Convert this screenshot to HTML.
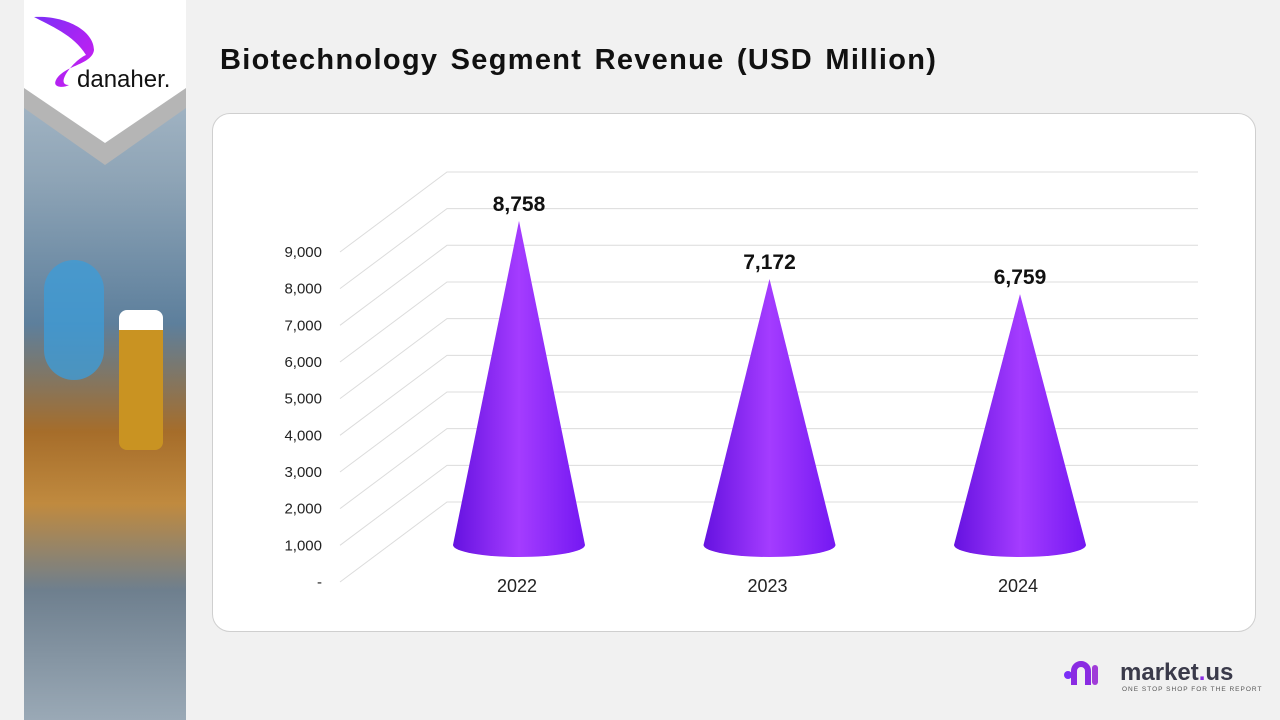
<!DOCTYPE html>
<html><head><meta charset="utf-8">
<style>
body{margin:0;width:1280px;height:720px;background:#f1f1f1;overflow:hidden;font-family:"Liberation Sans",sans-serif;position:relative}
#side{position:absolute;left:24px;top:0;width:162px;height:720px;background:linear-gradient(180deg,#b9c7d3 0%,#8ea4b6 25%,#5d7f9c 45%,#a66d2a 60%,#c08a3f 70%,#6e7f8e 82%,#9aa9b6 100%)}
#title{position:absolute;left:220px;top:44px;font-size:29px;font-weight:bold;color:#111;letter-spacing:1.3px;word-spacing:3px}
#card{position:absolute;left:212px;top:113px;width:1042px;height:517px;background:#fff;border:1px solid #cfcfcf;border-radius:18px}
</style></head><body>
<div id="side">
 <div style="position:absolute;left:20px;top:260px;width:60px;height:120px;background:#3f9bd6;border-radius:30px;opacity:.8"></div>
 <div style="position:absolute;left:95px;top:310px;width:44px;height:120px;background:#c99322;border-radius:8px;border-top:20px solid #fff"></div>
</div>
<svg style="position:absolute;left:24px;top:0" width="162" height="170">
 <polygon points="0,86 81,143 162,86 162,108 81,165 0,108" fill="#b5b5b5"/>
 <polygon points="0,0 162,0 162,88 81,143 0,88" fill="#fff"/>
 <defs><linearGradient id="lg" x1="0" y1="0" x2="1" y2="1"><stop offset="0" stop-color="#7b2ff7"/><stop offset="1" stop-color="#d21cf0"/></linearGradient></defs>
 <path d="M10,17 C40,15 70,30 70,50 C68,65 40,65 32,80 C28,88 40,88 45,85 C30,85 50,60 62,55 C50,35 25,25 10,17Z" fill="url(#lg)"/>
 <text x="53" y="87" font-size="24" fill="#111">danaher.</text>
</svg>
<div id="title">Biotechnology Segment Revenue  (USD Million)</div>
<div id="card"></div>
<svg id="chart" style="position:absolute;left:0;top:0" width="1280" height="720">
 <defs><linearGradient id="cg" x1="0" y1="0" x2="1" y2="0"><stop offset="0" stop-color="#6512e0"/><stop offset=".5" stop-color="#a43cff"/><stop offset="1" stop-color="#7418f2"/></linearGradient></defs>
</svg>
<svg style="position:absolute;left:1062px;top:655px" width="200" height="40">
 <circle cx="6" cy="20" r="4" fill="#7b2ff7"/>
 <path d="M12,30 V16 a7,7 0 0 1 14,0 V30" stroke="#8a2be2" stroke-width="6" fill="none"/>
 <rect x="30" y="10" width="6" height="20" rx="3" fill="#a03cd8"/>
 <text x="58" y="25" font-size="24" font-weight="bold" fill="#3a3a4a">market<tspan fill="#8a2be2">.</tspan>us</text>
 <text x="60" y="36" font-size="6.5" fill="#555" letter-spacing="1">ONE STOP SHOP FOR THE REPORTS</text>
</svg>
<script>
const categories=["2022","2023","2024"];
const values=[8758,7172,6759];
const ticks=[0,1000,2000,3000,4000,5000,6000,7000,8000,9000];
const tickLabels=["-","1,000","2,000","3,000","4,000","5,000","6,000","7,000","8,000","9,000"];
const valueLabels=["8,758","7,172","6,759"];
const NS="http://www.w3.org/2000/svg";
const svg=document.getElementById('chart');
const fy=v=>582-v*0.03667;
const DX=107,DY=-80;
const xc=i=>519+i*250.5;
function mk(t,a){const e=document.createElementNS(NS,t);for(const k in a)e.setAttribute(k,a[k]);svg.appendChild(e);return e;}
ticks.forEach((t,i)=>{
 const y=fy(t);
 const d=mk('path',{d:`M340,${y} L${340+DX},${y+DY} L1198,${y+DY}`,stroke:'#dcdcdc','stroke-width':1,fill:'none'});
 
 
 const tx=mk('text',{x:322,y:y+5,'text-anchor':'end','font-size':15,fill:'#222'});
 tx.textContent=tickLabels[i];
 
 
});
values.forEach((v,i)=>{
 const cx=xc(i),by=545,ty=fy(v)+DY/2,rx=66,ry=12;
 const c=mk('path',{d:`M${cx-rx},${by} L${cx},${ty} L${cx+rx},${by} A${rx},${ry} 0 0 1 ${cx-rx},${by} Z`,fill:'url(#cg)'});
 
 
 const l=mk('text',{x:cx,y:ty-10,'text-anchor':'middle','font-size':21,'font-weight':'bold',fill:'#111'});
 l.textContent=valueLabels[i];
 
 
 const c2=mk('text',{x:cx-2,y:592,'text-anchor':'middle','font-size':18,fill:'#222'});
 c2.textContent=categories[i];
 
 
});
</script>
</body></html>
